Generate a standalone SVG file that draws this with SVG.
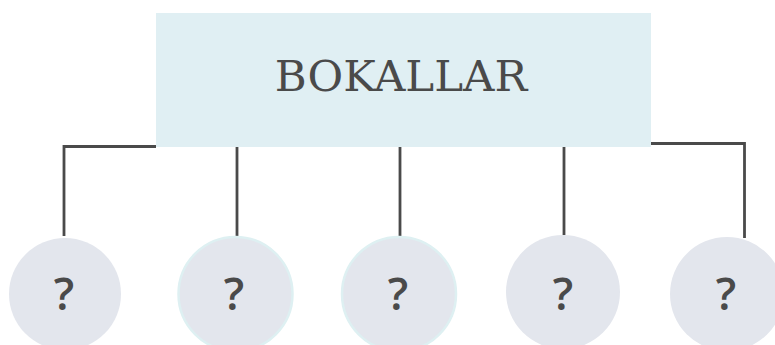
<svg xmlns="http://www.w3.org/2000/svg" width="775" height="345" viewBox="0 0 775 345">
  <style>
    .head { fill: #e0eff3; }
    .head-label { font-family: "DejaVu Serif", serif; font-size: 43.5px; fill: #4a4a4a; text-anchor: middle; }
    .leaf { fill: #e3e6ed; }
    .leaf-ring { fill: #e3e6ed; stroke: #def0f2; stroke-width: 2.5; }
    .leaf-label { font-family: "Open Sans", sans-serif; font-size: 45px; font-weight: 600; fill: #4a4a4a; text-anchor: middle; }
    .link { fill: none; stroke: #4a4a4a; stroke-width: 2.8; }
  </style>
  <rect width="775" height="345" fill="#ffffff"/>

  <g id="connectors">
    <polyline class="link" points="156,146.5 64,146.5 64,236"/>
    <line class="link" x1="237" y1="147" x2="237" y2="236"/>
    <line class="link" x1="400" y1="147" x2="400" y2="236"/>
    <line class="link" x1="564" y1="147" x2="564" y2="235"/>
    <polyline class="link" points="651,143.5 744.5,143.5 744.5,238"/>
  </g>

  <g id="root">
    <rect class="head" x="156" y="13" width="495" height="134"/>
    <text class="head-label" x="401" y="91">BOKALLAR</text>
  </g>

  <g id="child1">
    <circle class="leaf" cx="65" cy="294" r="56"/>
    <text class="leaf-label" x="64" y="310">?</text>
  </g>
  <g id="child2">
    <circle class="leaf-ring" cx="235.5" cy="294" r="57"/>
    <text class="leaf-label" x="234" y="310">?</text>
  </g>
  <g id="child3">
    <circle class="leaf-ring" cx="399" cy="294" r="57"/>
    <text class="leaf-label" x="398" y="310">?</text>
  </g>
  <g id="child4">
    <circle class="leaf" cx="563" cy="292" r="57"/>
    <text class="leaf-label" x="563" y="310">?</text>
  </g>
  <g id="child5">
    <circle class="leaf" cx="727" cy="294" r="57"/>
    <text class="leaf-label" x="726" y="310">?</text>
  </g>
</svg>
